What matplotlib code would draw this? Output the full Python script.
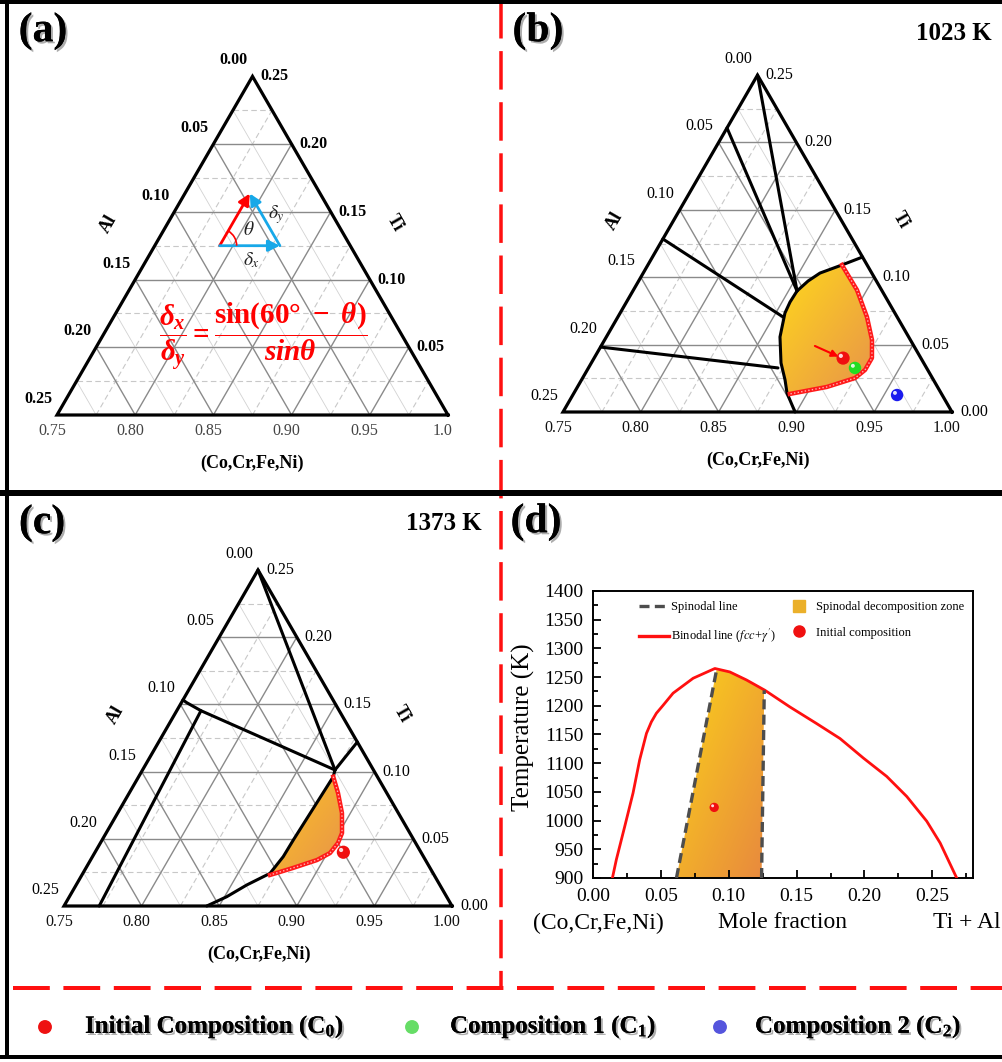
import numpy as np
import matplotlib.pyplot as plt
import matplotlib.patheffects as pe
from matplotlib import transforms
from matplotlib.patches import Polygon, Arc
from matplotlib.lines import Line2D
from matplotlib.colors import LinearSegmentedColormap

plt.rcParams['font.family'] = ['Liberation Serif', 'DejaVu Serif']
plt.rcParams['mathtext.fontset'] = 'custom'
plt.rcParams['mathtext.rm'] = 'Liberation Serif:bold'
plt.rcParams['mathtext.it'] = 'Liberation Serif:italic:bold'
plt.rcParams['mathtext.bf'] = 'Liberation Serif:bold'

# ---------------- data ----------------
# ternary window: Ti 0..0.25, Al 0..0.25, (Co,Cr,Fe,Ni) = 1 - Ti - Al
tern_ticks = [0.00, 0.05, 0.10, 0.15, 0.20, 0.25]
base_ticks = [0.75, 0.80, 0.85, 0.90, 0.95, 1.00]
grid_major = [0.05, 0.10, 0.15, 0.20]
grid_minor = [0.025, 0.075, 0.125, 0.175, 0.225]

# compositions (Ti, Al)
c0_ti, c0_al = 0.040, 0.050
c1_ti, c1_al = 0.0327, 0.046
c2_ti, c2_al = 0.0126, 0.029

# (a) composition vector sketch: origin, tip, corner
vec_ti = [0.125, 0.1635, 0.125]
vec_al = [0.0835, 0.045, 0.045]

# (b) 1023 K phase boundaries
b_tie1_ti, b_tie1_al = [0.25, 0.0898], [0.0, 0.0547]
b_tie2_ti, b_tie2_al = [0.2108, 0.0898], [0.0392, 0.0547]
b_tie3_ti, b_tie3_al = [0.1284, 0.0705], [0.1216, 0.0733]
b_tie4_ti, b_tie4_al = [0.0482, 0.0327], [0.2018, 0.0955]
b_cap_ti, b_cap_al = [0.115, 0.1091], [0.0, 0.0162]
b_spin_ti = [0.1091, 0.1031, 0.0972, 0.0898, 0.0816, 0.0735, 0.0557, 0.0364, 0.0238, 0.0141, 0.0]
b_spin_al = [0.0162, 0.0333, 0.0439, 0.0547, 0.0633, 0.0706, 0.0827, 0.0917, 0.0954, 0.0990, 0.1009]
b_bin_ti = [0.1091, 0.0905, 0.0705, 0.0534, 0.0401, 0.0312, 0.0252, 0.0186, 0.0134]
b_bin_al = [0.0162, 0.0158, 0.0194, 0.0247, 0.0314, 0.0403, 0.0497, 0.0711, 0.0975]

# (c) 1373 K phase boundaries
c_tie1_ti, c_tie1_al = [0.25, 0.1012], [0.0, 0.0248]
c_tie2_ti, c_tie2_al = [0.122, 0.1012], [0.0, 0.0248]
c_tie3_ti, c_tie3_al = [0.1533, 0.1513, 0.1453, 0.1012], [0.0967, 0.0953, 0.0891, 0.0248]
c_tie4_ti, c_tie4_al = [0.1453, 0.0], [0.0891, 0.2273]
c_spin_ti = [0.1012, 0.0962, 0.0491, 0.0367, 0.0243, 0.0156, 0.0069, 0.0]
c_spin_al = [0.0248, 0.0284, 0.0777, 0.0904, 0.1051, 0.1245, 0.1417, 0.158]
c_bin_ti = [0.0962, 0.0841, 0.0692, 0.0543, 0.0469, 0.0394, 0.0342, 0.0283, 0.0231]
c_bin_al = [0.0284, 0.0314, 0.0363, 0.0437, 0.0500, 0.0589, 0.0699, 0.0883, 0.1057]

# (d) pseudo-binary section
bin_x = [0.0143, 0.0172, 0.0234, 0.0295, 0.0344, 0.0394, 0.043, 0.0467, 0.0517, 0.059, 0.0738,
         0.0898, 0.1008, 0.1131, 0.1267, 0.1451, 0.1648, 0.182, 0.1992, 0.2164, 0.2312,
         0.2459, 0.2558, 0.268]
bin_T = [900, 932, 990, 1048, 1106, 1152, 1172, 1187, 1201, 1222, 1248,
         1265, 1259, 1245, 1227, 1198, 1169, 1143, 1109, 1077, 1042,
         999, 961, 900]
spinL_x, spinL_T = [0.0615, 0.091], [900, 1262]
spinR_x, spinR_T = [0.1242, 0.1262], [900, 1227]
c0_x, c0_T = 0.0893, 1023

# ---------------- figure ----------------
W, H = 1002, 1062
fig = plt.figure(figsize=(W / 100, H / 100), dpi=100)
PX = 0.72  # points per pixel

bg = fig.add_axes([0, 0, 1, 1])
bg.set_xlim(0, W)
bg.set_ylim(H, 0)
bg.axis('off')

RED = '#ff1010'
bg.plot([501, 501], [0, 986], color=RED, lw=3.5 * PX, ls=(0, (11, 3.6)))
bg.plot([13, W], [988, 988], color=RED, lw=4 * PX, ls=(0, (9.2, 3.4)))
for xs, ys, w in [([0, W], [2, 2], 4), ([7, 7], [0, 1059], 4), ([0, W], [1057, 1057], 4),
                  ([0, W], [493, 493], 6)]:
    bg.plot(xs, ys, color='black', lw=w * PX, solid_capstyle='butt')

shadow = [pe.withSimplePatchShadow(offset=(1.5, -1.5), shadow_rgbFace='#777777', alpha=0.6), pe.Normal()]
for s, x, y in [('(a)', 43, 31), ('(b)', 538, 31), ('(c)', 42, 523), ('(d)', 536, 522)]:
    bg.text(x, y, s, fontsize=30, fontweight='bold', ha='center', va='center', path_effects=shadow)
bg.text(992, 33, '1023 K', fontsize=18, fontweight='bold', ha='right', va='center')
bg.text(482, 523, '1373 K', fontsize=18, fontweight='bold', ha='right', va='center')

SQ = np.sqrt(3) / 2


def proj(ti, al):
    u = np.asarray(ti, float) / 0.25
    v = np.asarray(al, float) / 0.25
    return 1 - v - 0.5 * u, u * SQ


def sphere(ax, x, y, color, s, z=8):
    ax.scatter([x], [y], s=s, color=color, edgecolors='none', zorder=z)
    hl = transforms.offset_copy(ax.transData, fig=fig, x=-np.sqrt(s) * 0.17,
                                y=np.sqrt(s) * 0.17, units='points')
    ax.scatter([x], [y], s=s * 0.1, color='white', alpha=0.85, edgecolors='none',
               zorder=z + 1, transform=hl)


def gradient_fill(ax, xs, ys, c_top, c_bot, z=2):
    poly = Polygon(np.column_stack([xs, ys]), closed=True, facecolor='none', edgecolor='none')
    ax.add_patch(poly)
    x0, x1, y0, y1 = min(xs), max(xs), min(ys), max(ys)
    gx, gy = np.meshgrid(np.linspace(0, 1, 200), np.linspace(0, 1, 200))
    t = 0.5 * gx + 0.5 * (1 - gy)
    cmap = LinearSegmentedColormap.from_list('g', [c_top, c_bot])
    im = ax.imshow(t, cmap=cmap, extent=(x0, x1, y0, y1), origin='lower',
                   aspect='auto', zorder=z, vmin=0, vmax=1)
    im.set_clip_path(poly)


def lab(ax, ti, al, dx, dy, s, **kw):
    ax.annotate(s, proj(ti, al), xytext=(dx * PX, -dy * PX), textcoords='offset points',
                ha='center', va='center', **kw)


def ternary(box, L, S, bold=False, right_zero=True, last_base='1.00'):
    x0, y0, x1, y1 = box
    ax = fig.add_axes([x0 / W, 1 - y1 / H, (x1 - x0) / W, (y1 - y0) / H])
    ax.axis('off')
    ax.set_xlim((x0 - L[0]) / S, (x1 - L[0]) / S)
    ax.set_ylim((L[1] - y1) / S, (L[1] - y0) / S)
    ax.set_autoscale_on(False)
    for k in grid_minor:
        ax.plot(*proj([k, k], [0.25 - k, 0]), color='#c8c8c8', lw=0.8, ls=(0, (5, 3)), zorder=1)
        ax.plot(*proj([0, k], [k, 0]), color='#c8c8c8', lw=0.8, ls=(0, (5, 3)), zorder=1)
        ax.plot(*proj([0, 0.25 - k], [k, k]), color='#d2d2d2', lw=0.6, zorder=1)
    for k in grid_major:
        ax.plot(*proj([k, k], [0.25 - k, 0]), color='#8a8a8a', lw=1.0, zorder=1)
        ax.plot(*proj([0, k], [k, 0]), color='#8a8a8a', lw=1.0, zorder=1)
        ax.plot(*proj([0, 0.25 - k], [k, k]), color='#8a8a8a', lw=1.0, zorder=1)
    ax.plot(*proj([0, 0, 0.25, 0], [0, 0.25, 0, 0]), color='black', lw=2.3,
            solid_joinstyle='miter', zorder=6)
    w = 'bold' if bold else 'normal'
    for k in tern_ticks:
        lab(ax, 0.25 - k, k, -19, -16, f'{k:.2f}', fontsize=11.5, fontweight=w)
        if k > 0 or right_zero:
            lab(ax, k, 0, 22, 0, f'{k:.2f}', fontsize=11.5, fontweight=w)
    for b in base_ticks:
        s = last_base if b == 1.0 else f'{b:.2f}'
        lab(ax, 0, 1 - b, -5, 16, s, fontsize=11.5, color='#444444' if bold else '#111111')
    lab(ax, 0, 0.25, 51, -191, 'Al', fontsize=13, fontweight='bold', rotation=60)
    lab(ax, 0, 0.25, 338, -192, 'Ti', fontsize=13, fontweight='bold', rotation=-60)
    lab(ax, 0, 0.25, 195, 48, '(Co,Cr,Fe,Ni)', fontsize=13, fontweight='bold')
    return ax


def bound(ax, ti, al, lw=2.2):
    ax.plot(*proj(ti, al), color='black', lw=lw, zorder=5, solid_capstyle='round')


def binodal(ax, ti, al):
    ax.plot(*proj(ti, al), color='#ff1a1a', lw=3.2, zorder=5)
    ax.plot(*proj(ti, al), color='#ffb3b3', lw=1.0, ls=(0, (1, 1.6)), zorder=5)


# ---- (a) ----
S_a = 391
axa = ternary((9, 4, 499, 489), (57, 415), S_a, bold=True, right_zero=False, last_base='1.0')
vx, vy = proj(vec_ti, vec_al)
BLUE = '#17a8e8'
for i, j, col in [(0, 1, 'red'), (0, 2, BLUE), (2, 1, BLUE)]:
    axa.annotate('', xy=(vx[j], vy[j]), xytext=(vx[i], vy[i]),
                 arrowprops=dict(arrowstyle='-|>', color=col, lw=2, mutation_scale=17,
                                 shrinkA=0, shrinkB=0), zorder=7)
axa.add_patch(Arc((vx[0], vy[0]), 34 / S_a, 34 / S_a, theta1=0, theta2=60, color='red', lw=1.2, zorder=7))
for s, dx, dy in [(r'$\theta$', 29, -16), (r'$\delta_y$', 57, -31), (r'$\delta_x$', 32, 14)]:
    axa.annotate(s, (vx[0], vy[0]), xytext=(dx * PX, -dy * PX), textcoords='offset points',
                 ha='center', va='center', fontsize=14, color='#222222', math_fontfamily='stix')
axa.text((263 - 57) / S_a, (415 - 337) / S_a,
         r'$\dfrac{\delta_x}{\delta_y} = \dfrac{\mathrm{sin}(60°\ -\ \theta)}{sin\theta}$',
         color='red', fontsize=21, ha='center', va='center', zorder=8)

# ---- (b) ----
axb = ternary((503, 4, 1002, 489), (563, 412), 389)
keep = [i for i, t in enumerate(b_spin_ti) if t > b_bin_ti[-1]]
gradient_fill(axb, *proj([b_spin_ti[i] for i in keep] + b_bin_ti[::-1],
                         [b_spin_al[i] for i in keep] + b_bin_al[::-1]),
              '#ffd81c', '#e8934a')
for ti, al in [(b_tie1_ti, b_tie1_al), (b_tie2_ti, b_tie2_al), (b_tie3_ti, b_tie3_al),
               (b_tie4_ti, b_tie4_al), (b_cap_ti, b_cap_al), (b_spin_ti, b_spin_al)]:
    bound(axb, ti, al)
binodal(axb, b_bin_ti, b_bin_al)
p0 = proj(c0_ti, c0_al)
pa = proj(0.049, 0.0636)
axb.annotate('', xy=(p0[0] - 0.012, p0[1] + 0.004), xytext=pa,
             arrowprops=dict(arrowstyle='-|>', color='red', lw=1.5, mutation_scale=10,
                             shrinkA=0, shrinkB=0), zorder=8)
sphere(axb, *p0, '#f01010', 90)
sphere(axb, *proj(c1_ti, c1_al), '#22dd22', 80)
sphere(axb, *proj(c2_ti, c2_al), '#1a1aee', 80)

# ---- (c) ----
axc = ternary((9, 497, 499, 985), (64, 906), 388)
gradient_fill(axc, *proj(c_spin_ti[1:5] + c_bin_ti[::-1], c_spin_al[1:5] + c_bin_al[::-1]),
              '#fcc424', '#e8934a')
for ti, al in [(c_tie1_ti, c_tie1_al), (c_tie2_ti, c_tie2_al), (c_tie3_ti, c_tie3_al),
               (c_tie4_ti, c_tie4_al), (c_spin_ti, c_spin_al)]:
    bound(axc, ti, al)
binodal(axc, c_bin_ti, c_bin_al)
sphere(axc, *proj(c0_ti, c0_al), '#f01010', 90)

# ---- (d) ----
axd = fig.add_axes([593 / W, 1 - 878 / H, 380 / W, 287 / H])
axd.set_xlim(0, 0.28)
axd.set_ylim(900, 1400)
top_x = [x for x in bin_x if spinL_x[1] < x < spinR_x[1]]
top_T = [t for x, t in zip(bin_x, bin_T) if spinL_x[1] < x < spinR_x[1]]
gradient_fill(axd, spinL_x + top_x + spinR_x[::-1], spinL_T + top_T + spinR_T[::-1],
              '#fbd21a', '#e8893e', z=1)
axd.plot(bin_x, bin_T, color='#ff1010', lw=2.0, zorder=3)
axd.plot(spinL_x, spinL_T, color='#4d4d4d', lw=2.4, ls=(0, (3, 1.6)), zorder=4)
axd.plot(spinR_x, spinR_T, color='#4d4d4d', lw=2.4, ls=(0, (3, 1.6)), zorder=4)
sphere(axd, c0_x, c0_T, '#f01010', 45)
axd.set_xticks([0.0, 0.05, 0.10, 0.15, 0.20, 0.25])
axd.set_xticks(np.arange(0.025, 0.28, 0.05), minor=True)
axd.set_yticks(np.arange(900, 1401, 50))
axd.set_yticks(np.arange(925, 1400, 50), minor=True)
axd.tick_params(which='both', direction='in', top=False, right=False, labelsize=14, width=1.3, pad=7)
axd.tick_params(which='major', length=6)
axd.tick_params(which='minor', length=3.5)
axd.xaxis.set_major_formatter(plt.FormatStrFormatter('%.2f'))
for sp in axd.spines.values():
    sp.set_linewidth(1.4)
handles = [Line2D([], [], color='#4d4d4d', lw=2.4, ls=(0, (3, 1.6))),
           Line2D([], [], color='#ff1010', lw=2.4),
           Line2D([], [], marker='s', ls='none', color='#ebb02a', markersize=9),
           Line2D([], [], marker='o', ls='none', color='#f01010', markersize=8)]
labels = ['Spinodal line', r"Binodal line ($fcc$+$\gamma'$)",
          'Spinodal decomposition zone', 'Initial composition']
leg = axd.legend(handles, labels, ncol=2, loc='upper left', bbox_to_anchor=(0.12, 0.965),
                 frameon=False, fontsize=9, handlelength=2.4, handletextpad=0.2,
                 columnspacing=0.6, labelspacing=1.1, borderpad=0, borderaxespad=0)
leg.get_texts()[1].set_math_fontfamily('stix')
bg.text(523, 727, 'Temperature (K)', fontsize=18, rotation=90, ha='center', va='center')
bg.text(598, 923, '(Co,Cr,Fe,Ni)', fontsize=17, ha='center', va='center')
bg.text(783, 923, 'Mole fraction', fontsize=17, ha='center', va='center')
bg.text(967, 923, 'Ti + Al', fontsize=17, ha='center', va='center')

# ---- bottom legend ----
for x, color, s, tx in [(45, '#ee1111', 'Initial Composition (C$_0$)', 85),
                        (412, '#66dd66', 'Composition 1 (C$_1$)', 450),
                        (720, '#5555dd', 'Composition 2 (C$_2$)', 755)]:
    bg.scatter([x], [1027], s=100, color=color, edgecolors='none', zorder=5)
    bg.text(tx, 1027, s, fontsize=18, fontweight='bold', ha='left', va='center', path_effects=shadow)

fig.savefig('out.png', dpi=100)
